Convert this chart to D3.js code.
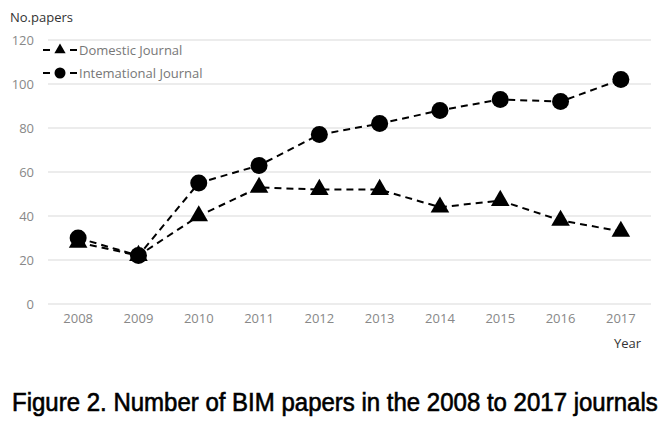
<!DOCTYPE html>
<html><head><meta charset="utf-8">
<script src="https://cdn.jsdelivr.net/npm/d3@7"></script>
<style>body{margin:0;background:#fff}svg{display:block}</style>
</head><body><svg id="c" width="670" height="421"></svg>
<script>
const years = ["2008","2009","2010","2011","2012","2013","2014","2015","2016","2017"];
const domestic = [28,22,40,53,52,52,44,47,38,33];
const international = [30,22,55,63,77,82,88,93,92,102];
const yTicks = [0,20,40,60,80,100,120];
const legendLabels = ["Domestic Journal","Intemational Journal"];
const captionText = "Figure 2. Number of BIM papers in the 2008 to 2017 journals";

const svg = d3.select("#c");
const x = d3.scaleBand().domain(years).range([48,651]);
const y = d3.scaleLinear().domain([0,120]).range([304,40]);
const font = "'Open Sans','Noto Sans',sans-serif";

svg.append("g").selectAll("line").data(yTicks).join("line")
  .attr("x1",48).attr("x2",651).attr("y1",d=>y(d)).attr("y2",d=>y(d))
  .attr("stroke","#d9d9d9").attr("stroke-width",1);

const yAxis = svg.append("g").attr("transform","translate(34,0)")
  .call(d3.axisLeft(y).tickValues(yTicks).tickSize(0).tickPadding(0));
yAxis.select(".domain").remove();
yAxis.selectAll("text").attr("fill","#888").style("font-family",font).style("font-size","13px");

const xAxis = svg.append("g").attr("transform","translate(0,314)")
  .call(d3.axisBottom(x).tickSize(0).tickPadding(0));
xAxis.select(".domain").remove();
xAxis.selectAll("text").attr("fill","#888").style("font-family",font).style("font-size","13px");

svg.append("text").attr("x",10).attr("y",22).text("No.papers")
  .attr("fill","#333").style("font-family",font).style("font-size","13px");
svg.append("text").attr("x",614).attr("y",348).text("Year")
  .attr("fill","#333").style("font-family",font).style("font-size","13px");

const cx = d => x(d) + x.bandwidth()/2;
const line = d3.line().x((d,i)=>cx(years[i])).y(d=>y(d));
const tri = d3.symbol().type(d3.symbolTriangle).size(150);

[domestic, international].forEach(vals=>{
  svg.append("path").datum(vals).attr("d",line).attr("fill","none")
    .attr("stroke","#000").attr("stroke-width",2).attr("stroke-dasharray","7,5");
});
svg.append("g").selectAll("path").data(domestic).join("path")
  .attr("d",tri).attr("transform",(d,i)=>`translate(${cx(years[i])},${y(d)})`).attr("fill","#000");
svg.append("g").selectAll("circle").data(international).join("circle")
  .attr("cx",(d,i)=>cx(years[i])).attr("cy",d=>y(d)).attr("r",8.5).attr("fill","#000");

const lg = svg.append("g");
[50,73].forEach((ly,k)=>{
  lg.append("line").attr("x1",43).attr("x2",77).attr("y1",ly).attr("y2",ly)
    .attr("stroke","#000").attr("stroke-width",2).attr("stroke-dasharray","7,20");
  if(k===0) lg.append("path").attr("d",d3.symbol().type(d3.symbolTriangle).size(55)).attr("transform",`translate(60,${ly})`);
  else lg.append("circle").attr("cx",60).attr("cy",ly).attr("r",5.5);
  lg.append("text").attr("x",79).attr("y",ly+5).text(legendLabels[k])
    .attr("fill","#777").style("font-family",font).style("font-size","13px");
});

const cap = svg.append("text").attr("x",0).attr("y",0).text(captionText)
  .attr("fill","#000").attr("stroke","#000").attr("stroke-width",0.6)
  .style("font-family","'Liberation Sans',Arial,sans-serif")
  .style("font-size","25px");
const L = cap.node().getComputedTextLength();
cap.attr("transform",`translate(12,411) scale(${646/L},1)`);
</script></body></html>
